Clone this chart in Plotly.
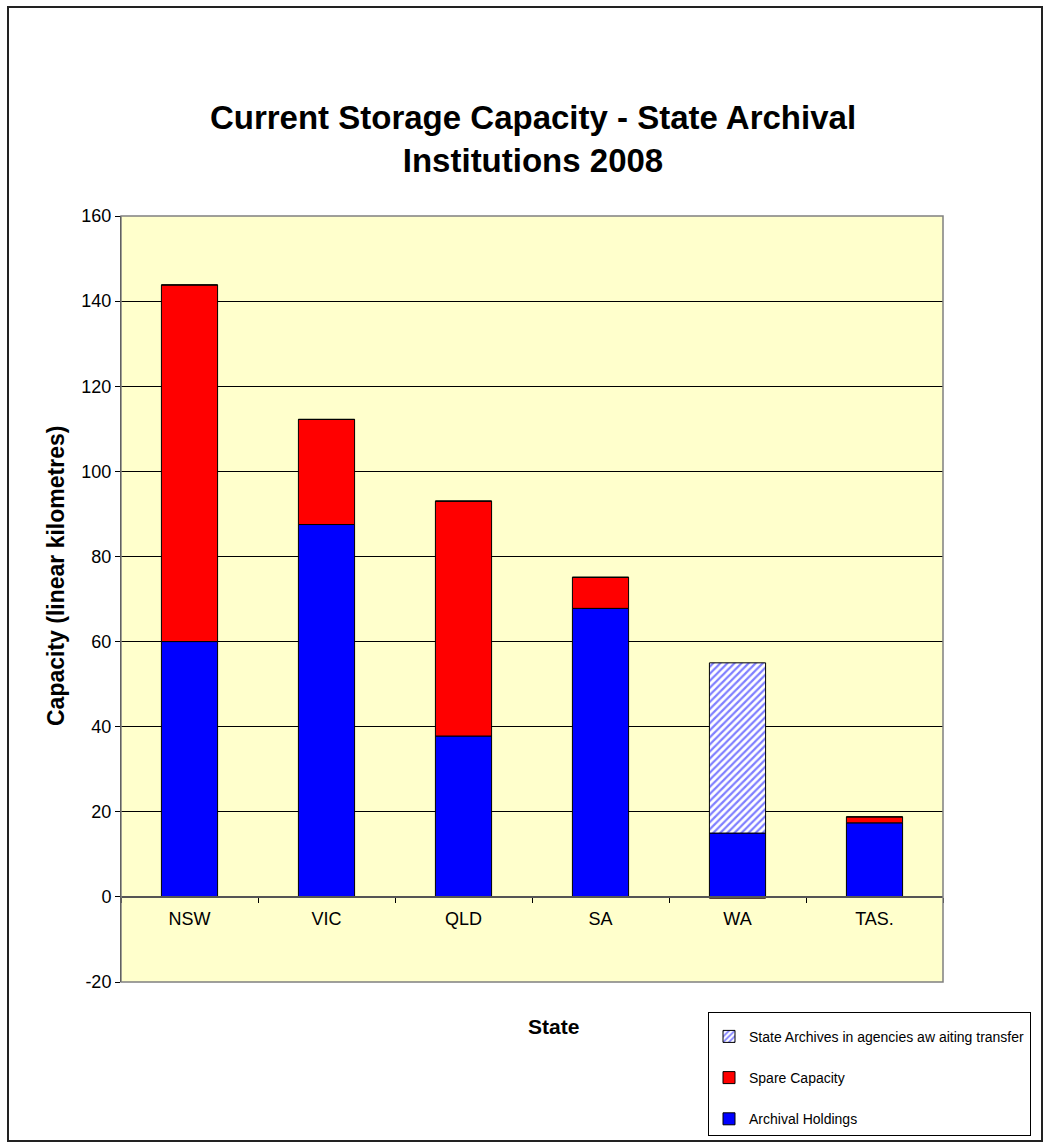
import plotly.graph_objects as go

states = ["NSW", "VIC", "QLD", "SA", "WA", "TAS."]
archival_holdings = [60.0, 87.5, 37.8, 67.8, 15.0, 17.4]
spare_capacity = [83.8, 24.7, 55.2, 7.3, -0.3, 1.4]
awaiting_transfer = [0, 0, 0, 0, 40.0, 0]

y_ticks = [-20, 0, 20, 40, 60, 80, 100, 120, 140, 160]
y_tick_labels = ["-20", "0", "20", "40", "60", "80", "100", "120", "140", "160"]

FONT = "Liberation Sans, Arial, sans-serif"
W, H = 1046, 1148
L, R, T, B = 121, 103, 216, 166
pw, ph = W - L - R, H - T - B

def px(x):
    return (x - L) / pw

def py(y):
    return (H - B - y) / ph

fig = go.Figure()
fig.add_trace(go.Bar(
    x=states, y=archival_holdings, name="Archival Holdings", legendgroup="a",
    legendrank=3,
    marker=dict(color="#0000FF", line=dict(color="black", width=1)), width=0.41))
fig.add_trace(go.Bar(
    x=states, y=spare_capacity, name="Spare Capacity", legendgroup="b",
    legendrank=2,
    marker=dict(color="#FF0000", line=dict(color="black", width=1)), width=0.41))
fig.add_trace(go.Bar(
    x=states, y=awaiting_transfer, name="State Archives in agencies aw aiting transfer",
    legendgroup="c", legendrank=1,
    marker=dict(color="white", line=dict(color="black", width=1),
                pattern=dict(shape="/", fgcolor="#0000FF", bgcolor="white",
                             size=5, solidity=0.45)), width=0.41))

fig.update_layout(
    width=W, height=H,
    margin=dict(l=L, r=R, t=T, b=B, autoexpand=False),
    barmode="relative",
    paper_bgcolor="white",
    plot_bgcolor="#FFFFCC",
    font=dict(family=FONT, size=18, color="black"),
    title=dict(text="<b>Current Storage Capacity - State Archival<br>Institutions 2008</b>",
               x=px(533), xref="paper", xanchor="center",
               y=1 - 129 / H, yanchor="middle",
               font=dict(size=33, family=FONT, color="black")),
    showlegend=True,
    legend=dict(x=px(708), y=py(1012), xanchor="left", yanchor="top",
                xref="paper", yref="paper",
                traceorder="grouped", tracegroupgap=20,
                bordercolor="black", borderwidth=1, bgcolor="white",
                title=dict(text=" ", font=dict(size=6)),
                font=dict(size=14, family=FONT), itemwidth=30),
    xaxis=dict(
        anchor="free", position=20 / 180,
        showline=True, linecolor="#555555", linewidth=1.5,
        ticks="outside", tickson="boundaries", ticklen=5, tickcolor="black",
        showgrid=False, tickfont=dict(size=18), ticklabelstandoff=6,
    ),
    yaxis=dict(
        range=[-20, 160], tickvals=y_ticks, ticktext=y_tick_labels, zeroline=False,
        showline=True, linecolor="black", linewidth=1,
        ticks="outside", ticklen=5, tickcolor="black",
        showgrid=True, gridcolor="black", gridwidth=1,
        tickfont=dict(size=18),
    ),
    shapes=[
        dict(type="rect", xref="x domain", yref="y domain", x0=0, x1=1, y0=0, y1=1,
             line=dict(color="#808080", width=1.5), layer="above"),
        dict(type="rect", xref="paper", yref="paper",
             x0=px(8), x1=px(1042), y0=py(1141), y1=py(7),
             line=dict(color="#222222", width=2)),
    ],
    annotations=[
        dict(text="<b>State</b>", x=px(553), y=py(1026), xref="paper", yref="paper",
             showarrow=False, font=dict(size=21, family=FONT), xanchor="center",
             yanchor="middle"),
        dict(text="<b>Capacity (linear kilometres)</b>", textangle=-90,
             x=px(56), y=py(576), xref="paper", yref="paper",
             showarrow=False, font=dict(size=23, family=FONT), xanchor="center",
             yanchor="middle"),
    ],
)

fig.write_html("out.html")
